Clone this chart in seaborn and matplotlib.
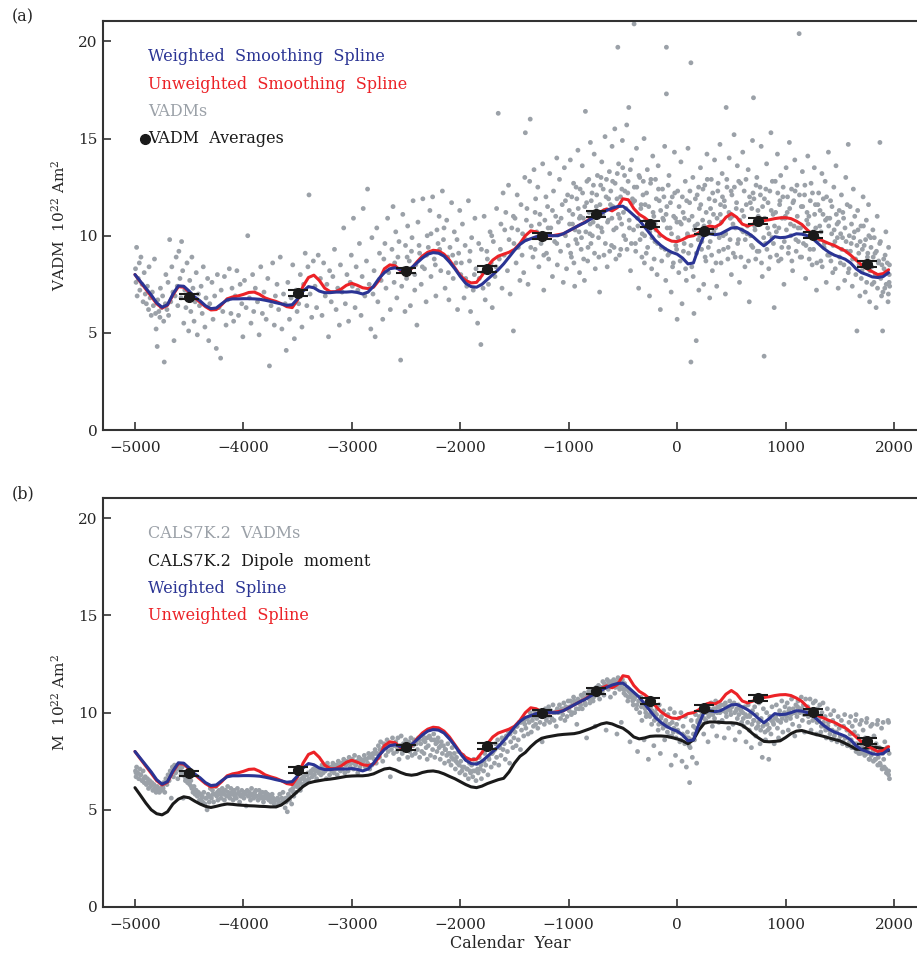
import matplotlib
matplotlib.use("Agg")
import matplotlib.pyplot as plt
import seaborn as sns

# Colours
BLUE = "#2a3494"
RED = "#ec2227"
GREY = "#9ba1a8"
BLACK = "#1a1a1a"

# Smoothing splines and dipole moment, every 50 years from -5000 to 1950
years = list(range(-5000, 2000, 50))

weighted = [
    8.00, 7.65, 7.30, 6.95, 6.55, 6.32, 6.45, 7.00, 7.42, 7.40,
    7.15, 6.85, 6.65, 6.40, 6.25, 6.28, 6.50, 6.70, 6.75, 6.75,
    6.76, 6.76, 6.75, 6.73, 6.68, 6.62, 6.55, 6.49, 6.42, 6.45,
    6.75, 7.15, 7.38, 7.32, 7.15, 7.07, 7.07, 7.10, 7.10, 7.10,
    7.12, 7.08, 7.00, 7.10, 7.40, 7.80, 8.10, 8.30, 8.35, 8.25,
    8.22, 8.35, 8.60, 8.85, 9.05, 9.13, 9.10, 8.95, 8.65, 8.30,
    7.90, 7.55, 7.38, 7.35, 7.50, 7.75, 8.00, 8.25, 8.55, 8.90,
    9.25, 9.55, 9.75, 9.85, 9.95, 10.00, 10.02, 10.00, 10.00, 10.10,
    10.25, 10.40, 10.55, 10.68, 10.85, 11.00, 11.15, 11.30, 11.42, 11.50,
    11.52, 11.30, 11.05, 10.80, 10.45, 10.10, 9.75, 9.50, 9.30, 9.15,
    9.05, 8.85, 8.55, 8.60, 9.40, 10.05, 10.10, 10.05, 10.10, 10.25,
    10.40, 10.42, 10.30, 10.15, 9.95, 9.70, 9.48, 9.70, 9.95, 9.90,
    9.92, 10.00, 10.10, 10.08, 10.00, 9.85, 9.60, 9.35, 9.15, 9.00,
    8.90, 8.79, 8.60, 8.30, 8.10, 8.00, 7.88, 7.85, 7.90, 8.10,
]

unweighted = [
    8.00, 7.62, 7.25, 6.88, 6.50, 6.28, 6.42, 6.95, 7.38, 7.35,
    7.10, 6.82, 6.58, 6.35, 6.18, 6.20, 6.45, 6.75, 6.85, 6.90,
    6.98, 7.08, 7.10, 6.98, 6.80, 6.70, 6.62, 6.50, 6.35, 6.30,
    6.70, 7.40, 7.85, 7.97, 7.70, 7.30, 7.12, 7.12, 7.25, 7.45,
    7.55, 7.45, 7.32, 7.28, 7.35, 7.70, 8.30, 8.50, 8.45, 8.20,
    8.08, 8.30, 8.65, 8.95, 9.15, 9.25, 9.22, 9.05, 8.75, 8.35,
    7.95, 7.70, 7.57, 7.60, 7.95, 8.40, 8.75, 8.95, 9.05, 9.15,
    9.30, 9.60, 10.00, 10.25, 10.20, 10.05, 10.00, 10.00, 10.05, 10.10,
    10.25, 10.40, 10.55, 10.70, 10.88, 11.05, 11.25, 11.38, 11.28, 11.45,
    11.90, 11.85, 11.40, 11.10, 10.93, 10.70, 10.35, 10.05, 9.85, 9.72,
    9.70, 9.80, 9.95, 10.00, 10.15, 10.40, 10.50, 10.45, 10.60, 10.95,
    11.14, 10.95, 10.60, 10.50, 10.60, 10.75, 10.78, 10.82, 10.88, 10.92,
    10.93, 10.88, 10.75, 10.58, 10.30, 10.05, 9.85, 9.72, 9.60, 9.50,
    9.35, 9.22, 9.00, 8.75, 8.50, 8.30, 8.15, 8.00, 8.05, 8.25,
]

dipole = [
    6.14, 5.75, 5.35, 5.00, 4.80, 4.74, 4.90, 5.30, 5.55, 5.67,
    5.62, 5.45, 5.30, 5.18, 5.12, 5.18, 5.25, 5.30, 5.28, 5.25,
    5.23, 5.21, 5.20, 5.18, 5.17, 5.15, 5.15, 5.25, 5.45, 5.70,
    5.95, 6.20, 6.38, 6.45, 6.50, 6.55, 6.58, 6.62, 6.67, 6.72,
    6.74, 6.75, 6.75, 6.78, 6.85, 6.98, 7.10, 7.14, 7.05, 6.92,
    6.82, 6.78, 6.82, 6.92, 6.98, 7.00, 6.95, 6.85, 6.72, 6.60,
    6.45, 6.30, 6.18, 6.14, 6.22, 6.35, 6.45, 6.55, 6.62, 6.95,
    7.40, 7.75, 7.95, 8.25, 8.50, 8.68, 8.75, 8.80, 8.85, 8.88,
    8.90, 8.92, 8.98, 9.08, 9.18, 9.30, 9.42, 9.48, 9.42, 9.30,
    9.20, 9.00, 8.75, 8.65, 8.70, 8.78, 8.80, 8.80, 8.78, 8.72,
    8.65, 8.55, 8.40, 8.60, 9.10, 9.45, 9.52, 9.52, 9.50, 9.48,
    9.48, 9.45, 9.35, 9.15, 8.90, 8.70, 8.52, 8.50, 8.52, 8.55,
    8.72, 8.92, 9.05, 9.08, 9.00, 8.92, 8.85, 8.78, 8.70, 8.62,
    8.55, 8.42, 8.28, 8.12, 8.10, 8.18, 8.23, 8.20, 8.15, 8.05,
]

# 500-year VADM averages (centre year, value)
avg_years = [-4500, -3500, -2500, -1750, -1250, -750, -250, 250, 750, 1250, 1750]
avg_values = [6.87, 7.05, 8.21, 8.28, 10.00, 11.12, 10.62, 10.22, 10.74, 10.05, 8.56]
avg_err = [0.15] * len(avg_years)

# Individual VADMs, panel (a)
vadm_pts = [
    (-4995, 8.3), (-4990, 7.6), (-4985, 9.4), (-4980, 6.9), (-4970, 7.8), (-4960, 8.6), (-4955, 7.2), (-4945, 8.9),
    (-4935, 7.5), (-4925, 6.6), (-4915, 8.1), (-4905, 7.0), (-4895, 6.5), (-4885, 7.4), (-4875, 6.2), (-4870, 8.4),
    (-4860, 6.8), (-4850, 5.9), (-4840, 7.1), (-4830, 6.4), (-4820, 8.8), (-4810, 6.0), (-4805, 5.2), (-4795, 4.3),
    (-4790, 6.7), (-4780, 6.1), (-4770, 5.8), (-4765, 7.3), (-4755, 6.3), (-4745, 6.9), (-4735, 5.6), (-4730, 3.5),
    (-4720, 6.5), (-4715, 8.0), (-4705, 6.2), (-4695, 7.6), (-4690, 5.9), (-4680, 9.8), (-4670, 6.6), (-4660, 8.4),
    (-4650, 7.1), (-4640, 4.6), (-4630, 6.9), (-4620, 8.9), (-4610, 7.4), (-4605, 6.4), (-4595, 9.2), (-4585, 7.8),
    (-4575, 6.8), (-4570, 9.7), (-4560, 8.2), (-4550, 5.5), (-4540, 7.2), (-4530, 6.3), (-4520, 8.6), (-4510, 7.0),
    (-4505, 5.1), (-4495, 7.7), (-4485, 6.1), (-4475, 8.9), (-4465, 7.3), (-4455, 5.6), (-4445, 6.6), (-4435, 8.1),
    (-4425, 4.9), (-4415, 7.0), (-4405, 6.4), (-4390, 7.4), (-4380, 6.0), (-4370, 8.4), (-4355, 5.3), (-4345, 6.8),
    (-4330, 7.8), (-4320, 4.6), (-4310, 6.5), (-4290, 7.6), (-4280, 5.7), (-4265, 6.9), (-4250, 4.2), (-4240, 8.0),
    (-4225, 6.3), (-4210, 3.7), (-4205, 7.2), (-4190, 6.1), (-4175, 7.9), (-4160, 5.4), (-4145, 6.7), (-4130, 8.3),
    (-4115, 6.0), (-4105, 7.3), (-4090, 5.6), (-4075, 6.9), (-4060, 8.2), (-4045, 5.9), (-4030, 7.5), (-4015, 6.5),
    (-4005, 4.8), (-3990, 7.7), (-3975, 6.3), (-3960, 10.0), (-3945, 6.8), (-3930, 5.5), (-3915, 8.0), (-3905, 6.1),
    (-3890, 7.3), (-3870, 6.6), (-3855, 4.9), (-3840, 8.4), (-3825, 6.0), (-3810, 7.1), (-3790, 5.7), (-3775, 7.8),
    (-3760, 3.3), (-3745, 6.4), (-3730, 8.6), (-3715, 5.4), (-3705, 6.9), (-3690, 7.5), (-3675, 6.2), (-3660, 8.9),
    (-3645, 5.2), (-3630, 7.0), (-3615, 6.5), (-3605, 4.1), (-3590, 7.6), (-3575, 5.7), (-3560, 6.8), (-3545, 8.5),
    (-3530, 4.7), (-3515, 7.2), (-3505, 6.1), (-3490, 6.5), (-3475, 8.0), (-3460, 5.3), (-3445, 7.5), (-3430, 9.1),
    (-3415, 6.4), (-3405, 8.4), (-3395, 12.1), (-3385, 7.0), (-3370, 5.8), (-3355, 8.7), (-3340, 7.4), (-3325, 6.3),
    (-3310, 9.0), (-3290, 7.8), (-3275, 5.9), (-3260, 8.6), (-3245, 6.9), (-3230, 7.5), (-3215, 4.8), (-3205, 8.2),
    (-3190, 6.6), (-3175, 7.9), (-3160, 9.3), (-3145, 6.2), (-3130, 7.3), (-3115, 5.4), (-3105, 8.5), (-3090, 7.1),
    (-3075, 10.4), (-3060, 6.5), (-3045, 8.0), (-3030, 5.6), (-3015, 7.6), (-3005, 9.0), (-2995, 7.4), (-2985, 10.9),
    (-2970, 6.3), (-2960, 8.4), (-2945, 7.2), (-2930, 9.6), (-2915, 5.9), (-2905, 7.9), (-2895, 11.4), (-2880, 6.9),
    (-2865, 8.7), (-2855, 12.4), (-2840, 7.5), (-2825, 5.2), (-2815, 9.9), (-2805, 7.0), (-2795, 8.2), (-2785, 4.8),
    (-2770, 10.4), (-2760, 6.6), (-2745, 9.1), (-2730, 7.7), (-2715, 5.7), (-2705, 8.8), (-2695, 9.6), (-2685, 7.3),
    (-2670, 10.9), (-2660, 8.1), (-2645, 6.2), (-2630, 9.3), (-2620, 11.5), (-2610, 7.6), (-2605, 8.6), (-2595, 10.2),
    (-2585, 6.8), (-2575, 8.9), (-2565, 9.7), (-2550, 3.6), (-2540, 7.4), (-2530, 11.1), (-2520, 8.3), (-2510, 6.1),
    (-2505, 9.5), (-2495, 7.8), (-2485, 10.5), (-2470, 8.7), (-2460, 6.4), (-2445, 9.9), (-2435, 11.8), (-2420, 7.2),
    (-2410, 8.5), (-2400, 5.4), (-2390, 10.7), (-2375, 9.1), (-2360, 7.5), (-2345, 11.9), (-2330, 8.3), (-2315, 6.6),
    (-2305, 10.0), (-2295, 9.4), (-2280, 11.3), (-2270, 7.9), (-2255, 12.0), (-2240, 8.8), (-2225, 6.9), (-2215, 10.3),
    (-2205, 9.6), (-2195, 11.0), (-2180, 8.2), (-2165, 12.3), (-2155, 9.8), (-2140, 7.3), (-2125, 10.8), (-2115, 8.9),
    (-2105, 6.7), (-2095, 9.4), (-2080, 11.7), (-2065, 7.8), (-2055, 10.2), (-2040, 8.6), (-2025, 6.2), (-2015, 9.1),
    (-2005, 11.3), (-1995, 8.0), (-1980, 10.6), (-1965, 6.8), (-1955, 9.5), (-1940, 7.4), (-1925, 11.8), (-1915, 8.7),
    (-1905, 6.1), (-1895, 9.9), (-1880, 7.2), (-1865, 10.9), (-1855, 8.3), (-1840, 5.5), (-1825, 7.8), (-1810, 4.4),
    (-1805, 9.3), (-1795, 8.1), (-1780, 11.0), (-1770, 6.7), (-1755, 9.2), (-1740, 7.5), (-1725, 10.2), (-1715, 8.6),
    (-1705, 6.3), (-1695, 9.7), (-1680, 7.9), (-1665, 11.4), (-1650, 16.3), (-1640, 8.8), (-1625, 10.6), (-1615, 7.3),
    (-1605, 12.2), (-1595, 9.0), (-1580, 11.2), (-1565, 8.2), (-1555, 12.6), (-1540, 7.0), (-1525, 10.4), (-1510, 5.1),
    (-1505, 9.6), (-1495, 10.9), (-1485, 8.6), (-1475, 12.1), (-1465, 9.4), (-1450, 7.7), (-1440, 11.6), (-1425, 10.1),
    (-1415, 8.1), (-1405, 13.0), (-1400, 15.3), (-1395, 9.8), (-1385, 11.4), (-1375, 7.5), (-1360, 12.8), (-1355, 16.0),
    (-1345, 10.5), (-1330, 8.9), (-1320, 13.4), (-1310, 9.3), (-1305, 11.9), (-1295, 10.2), (-1285, 12.5), (-1275, 8.4),
    (-1265, 11.1), (-1255, 9.6), (-1240, 13.7), (-1230, 7.2), (-1220, 10.8), (-1210, 12.0), (-1205, 9.1), (-1195, 11.5),
    (-1185, 8.8), (-1175, 13.2), (-1165, 10.4), (-1150, 7.9), (-1140, 12.3), (-1130, 9.7), (-1120, 11.0), (-1110, 14.0),
    (-1105, 8.5), (-1095, 10.7), (-1085, 12.9), (-1075, 9.2), (-1060, 11.6), (-1050, 7.6), (-1040, 13.5), (-1030, 10.0),
    (-1020, 8.3), (-1010, 12.1), (-1005, 9.5), (-995, 11.3), (-985, 13.9), (-975, 8.9), (-965, 10.6), (-955, 12.7),
    (-945, 7.4), (-935, 9.8), (-925, 11.9), (-915, 14.4), (-905, 10.2), (-900, 8.1), (-895, 12.4), (-885, 9.3),
    (-875, 13.6), (-865, 10.9), (-855, 7.7), (-846, 16.4), (-835, 11.7), (-825, 8.7), (-815, 12.9), (-805, 10.1),
    (-800, 14.8), (-795, 9.6), (-785, 12.2), (-775, 10.7), (-765, 14.2), (-755, 8.3), (-745, 11.5), (-735, 13.1),
    (-725, 9.9), (-715, 7.1), (-705, 12.6), (-700, 10.4), (-695, 13.8), (-685, 11.1), (-675, 9.0), (-665, 15.1),
    (-655, 12.0), (-645, 8.4), (-635, 10.8), (-625, 13.3), (-615, 11.6), (-605, 9.5), (-600, 14.6), (-595, 12.8),
    (-585, 10.3), (-575, 15.5), (-565, 8.8), (-555, 11.9), (-547, 19.7), (-540, 13.7), (-530, 10.9), (-520, 9.3),
    (-510, 12.4), (-505, 14.9), (-495, 11.2), (-485, 13.1), (-475, 9.8), (-465, 15.7), (-455, 12.2), (-446, 16.6),
    (-440, 10.4), (-430, 8.2), (-420, 13.9), (-410, 11.7), (-397, 20.9), (-395, 12.5), (-385, 9.6), (-375, 14.5),
    (-365, 10.9), (-355, 7.3), (-345, 13.0), (-335, 11.4), (-325, 8.9), (-315, 12.1), (-305, 15.0), (-300, 10.0),
    (-295, 11.6), (-285, 9.1), (-275, 13.4), (-265, 10.6), (-255, 6.9), (-245, 12.7), (-235, 8.3), (-225, 14.1),
    (-215, 11.0), (-205, 9.7), (-200, 12.9), (-195, 10.3), (-185, 8.0), (-175, 13.6), (-165, 11.8), (-155, 6.2),
    (-145, 9.4), (-135, 12.4), (-125, 10.8), (-115, 14.6), (-105, 7.7), (-99, 17.3), (-99, 19.7), (-95, 11.5),
    (-85, 9.0), (-75, 13.1), (-65, 10.4), (-55, 7.1), (-45, 12.0), (-35, 8.6), (-25, 14.3), (-15, 10.9),
    (-5, 9.3), (0, 5.7), (5, 12.3), (15, 8.1), (25, 10.7), (35, 13.8), (45, 6.5), (55, 11.2),
    (65, 9.6), (75, 12.8), (85, 7.7), (95, 10.1), (100, 14.5), (105, 9.1), (115, 11.7), (127, 18.9),
    (127, 3.5), (135, 8.4), (145, 13.0), (155, 6.0), (165, 10.5), (176, 4.6), (185, 12.1), (195, 9.8),
    (200, 7.2), (205, 11.4), (215, 13.5), (225, 9.3), (235, 10.8), (245, 7.5), (255, 12.6), (265, 8.7),
    (275, 14.2), (285, 10.2), (295, 11.9), (300, 6.8), (305, 9.7), (315, 12.9), (325, 8.2), (335, 11.1),
    (345, 13.9), (355, 10.4), (365, 7.4), (375, 12.3), (385, 9.2), (395, 14.7), (400, 11.6), (405, 8.6),
    (415, 13.2), (425, 10.0), (435, 11.8), (445, 7.0), (452, 16.6), (460, 12.5), (470, 9.4), (480, 14.0),
    (490, 10.9), (500, 8.0), (505, 12.1), (515, 10.6), (525, 15.2), (535, 8.9), (545, 11.4), (555, 13.6),
    (565, 9.8), (575, 7.6), (585, 12.7), (595, 10.3), (605, 14.3), (615, 11.0), (625, 8.4), (635, 12.9),
    (645, 10.1), (655, 13.4), (665, 6.6), (675, 11.7), (685, 9.5), (695, 14.9), (700, 12.2), (704, 17.1),
    (715, 10.5), (725, 8.8), (735, 13.0), (745, 11.3), (755, 9.2), (765, 12.5), (775, 14.6), (785, 7.9),
    (795, 10.8), (802, 3.8), (805, 11.9), (815, 9.6), (825, 13.7), (835, 10.4), (845, 8.3), (855, 12.3),
    (865, 15.3), (875, 9.9), (885, 11.1), (895, 6.3), (905, 12.8), (915, 10.2), (925, 14.2), (935, 8.7),
    (945, 11.6), (955, 13.1), (965, 9.4), (975, 12.0), (985, 7.5), (995, 10.9), (1005, 13.5), (1015, 11.2),
    (1025, 9.1), (1035, 14.8), (1045, 10.6), (1055, 12.4), (1065, 8.2), (1075, 11.8), (1085, 13.9), (1095, 9.8),
    (1105, 12.6), (1115, 10.4), (1125, 20.4), (1135, 8.9), (1145, 11.5), (1155, 13.3), (1165, 9.6), (1175, 12.1),
    (1185, 7.8), (1195, 10.8), (1205, 14.1), (1215, 11.0), (1225, 9.3), (1235, 12.7), (1245, 8.5), (1255, 10.2),
    (1265, 13.5), (1275, 11.6), (1285, 7.2), (1295, 9.9), (1305, 12.2), (1315, 10.5), (1325, 8.7), (1335, 13.2),
    (1345, 11.1), (1355, 9.4), (1365, 12.8), (1375, 7.6), (1385, 10.9), (1395, 14.3), (1405, 9.0), (1415, 11.8),
    (1425, 10.1), (1435, 8.1), (1445, 12.5), (1455, 9.7), (1465, 13.6), (1475, 10.6), (1485, 7.3), (1495, 11.3),
    (1505, 8.6), (1515, 12.1), (1525, 9.9), (1535, 10.9), (1545, 7.7), (1555, 13.0), (1565, 9.2), (1578, 14.7),
    (1585, 8.3), (1595, 11.5), (1605, 9.6), (1615, 7.4), (1625, 12.4), (1635, 10.2), (1645, 8.8), (1658, 5.1),
    (1665, 11.3), (1675, 9.1), (1685, 6.9), (1695, 10.5), (1705, 8.2), (1715, 12.0), (1725, 9.5), (1735, 7.1),
    (1745, 10.8), (1755, 8.9), (1765, 11.6), (1775, 6.6), (1785, 9.9), (1795, 8.4), (1805, 10.3), (1815, 7.6),
    (1825, 9.1), (1835, 6.3), (1845, 11.0), (1855, 8.6), (1865, 7.9), (1870, 14.8), (1875, 9.7), (1885, 6.9),
    (1895, 5.1), (1905, 8.8), (1915, 7.3), (1925, 10.2), (1935, 8.1), (1945, 6.6), (1950, 9.4), (1955, 7.6),
    (1958, 8.5),
]

# More VADMs from the dense band after -2500
vadm_core = [
    (-2490, 8.9), (-2450, 9.2), (-2420, 8.0), (-2380, 9.5), (-2350, 8.4), (-2310, 9.0), (-2270, 10.1), (-2230, 8.5),
    (-2190, 9.3), (-2150, 10.4), (-2110, 8.1), (-2070, 9.0), (-2030, 9.8), (-1990, 8.6), (-1950, 7.8), (-1910, 9.2),
    (-1870, 8.0), (-1830, 9.6), (-1790, 7.3), (-1750, 8.8), (-1710, 10.0), (-1670, 8.4), (-1630, 9.3), (-1590, 10.3),
    (-1550, 9.8), (-1510, 11.0), (-1470, 10.3), (-1430, 9.0), (-1390, 10.8), (-1350, 9.4), (-1310, 11.2), (-1270, 10.6),
    (-1230, 9.0), (-1190, 10.4), (-1150, 11.3), (-1110, 9.6), (-1070, 10.9), (-1030, 11.8),
    (-992, 10.6), (-982, 9.1), (-972, 12.0), (-962, 11.1), (-952, 8.6), (-942, 10.3), (-932, 12.5), (-922, 9.6),
    (-912, 11.4), (-902, 10.9), (-892, 11.0), (-882, 9.9), (-872, 12.2), (-862, 8.8), (-852, 11.5), (-842, 10.2),
    (-832, 12.8), (-822, 9.4), (-812, 11.2), (-802, 10.6), (-792, 11.8), (-782, 10.0), (-772, 12.6), (-762, 9.1),
    (-752, 11.0), (-742, 12.1), (-732, 10.5), (-722, 8.9), (-712, 11.6), (-702, 13.0), (-692, 10.2), (-682, 12.4),
    (-672, 11.3), (-662, 9.6), (-652, 12.9), (-642, 10.7), (-632, 11.9), (-622, 9.2), (-612, 12.3), (-602, 10.9),
    (-592, 11.5), (-582, 9.4), (-572, 12.7), (-562, 10.4), (-552, 13.2), (-542, 11.1), (-532, 9.0), (-522, 12.0),
    (-512, 10.6), (-502, 13.5), (-492, 10.0), (-482, 12.3), (-472, 11.4), (-462, 9.3), (-452, 12.8), (-442, 10.8),
    (-432, 13.4), (-422, 9.6), (-412, 11.9), (-402, 10.3), (-392, 11.8), (-382, 9.2), (-372, 12.5), (-362, 10.5),
    (-352, 13.1), (-342, 9.8), (-332, 11.6), (-322, 10.1), (-312, 12.8), (-302, 8.6), (-292, 10.8), (-282, 12.2),
    (-272, 9.4), (-262, 11.5), (-252, 10.2), (-242, 12.9), (-232, 9.9), (-222, 11.2), (-212, 8.8), (-202, 10.6),
    (-192, 11.9), (-182, 9.6), (-172, 12.4), (-162, 10.0), (-152, 11.3), (-142, 8.7), (-132, 10.9), (-122, 12.0),
    (-112, 9.3), (-102, 11.1), (-92, 10.4), (-82, 12.6), (-72, 9.1), (-62, 11.7), (-52, 10.1), (-42, 8.4),
    (-32, 11.0), (-22, 12.2), (-12, 9.5), (-2, 10.7), (8, 9.9), (18, 11.5), (28, 8.7), (38, 10.6),
    (48, 12.0), (58, 9.2), (68, 10.9), (78, 8.3), (88, 11.8), (98, 10.0), (108, 10.8), (118, 12.3),
    (128, 9.5), (138, 11.0), (148, 7.9), (158, 10.3), (168, 11.9), (178, 9.1), (188, 10.6), (198, 12.5),
    (208, 10.0), (218, 11.6), (228, 9.7), (238, 12.4), (248, 10.5), (258, 8.9), (268, 11.2), (278, 12.9),
    (288, 9.4), (298, 10.7), (308, 11.4), (318, 9.0), (328, 12.2), (338, 10.2), (348, 11.8), (358, 8.6),
    (368, 10.9), (378, 12.7), (388, 9.9), (398, 11.1), (408, 10.7), (418, 12.0), (428, 9.3), (438, 11.5),
    (448, 10.1), (458, 12.9), (468, 8.8), (478, 11.2), (488, 9.8), (498, 12.3), (508, 11.0), (518, 9.1),
    (528, 12.5), (538, 10.4), (548, 11.7), (558, 9.6), (568, 12.8), (578, 10.8), (588, 8.9), (598, 11.3),
    (608, 10.2), (618, 12.3), (628, 9.8), (638, 11.6), (648, 10.5), (658, 8.7), (668, 12.0), (678, 10.0),
    (688, 11.4), (698, 9.4), (708, 11.9), (718, 10.3), (728, 12.6), (738, 9.2), (748, 11.0), (758, 10.6),
    (768, 12.1), (778, 8.6), (788, 11.5), (798, 9.9), (808, 10.9), (818, 12.4), (828, 9.3), (838, 11.7),
    (848, 10.1), (858, 8.9), (868, 11.3), (878, 12.8), (888, 9.6), (898, 10.5), (908, 11.2), (918, 9.0),
    (928, 12.2), (938, 10.4), (948, 11.8), (958, 8.8), (968, 10.9), (978, 12.5), (988, 9.7), (998, 11.0),
    (1008, 10.3), (1018, 12.0), (1028, 9.4), (1038, 11.4), (1048, 10.0), (1058, 8.7), (1068, 11.7), (1078, 10.5),
    (1088, 12.3), (1098, 9.2), (1108, 11.0), (1118, 9.7), (1128, 12.1), (1138, 10.4), (1148, 8.9), (1158, 11.5),
    (1168, 10.1), (1178, 12.6), (1188, 9.5), (1198, 11.2), (1208, 10.6), (1218, 8.8), (1228, 11.8), (1238, 10.0),
    (1248, 12.2), (1258, 9.3), (1268, 11.1), (1278, 10.4), (1288, 8.6), (1298, 11.6), (1308, 9.8), (1318, 11.3),
    (1328, 10.2), (1338, 8.4), (1348, 11.9), (1358, 9.6), (1368, 10.8), (1378, 12.0), (1388, 9.0), (1398, 10.5),
    (1408, 10.9), (1418, 8.7), (1428, 11.5), (1438, 9.5), (1448, 10.3), (1458, 8.3), (1468, 11.1), (1478, 9.9),
    (1488, 10.7), (1498, 8.9), (1508, 10.1), (1518, 9.3), (1528, 11.2), (1538, 8.5), (1548, 10.4), (1558, 9.7),
    (1568, 11.6), (1578, 8.1), (1588, 10.0), (1598, 9.2), (1608, 10.6), (1618, 8.8), (1628, 9.9), (1638, 11.0),
    (1648, 8.0), (1658, 9.5), (1668, 10.3), (1678, 8.5), (1688, 9.7), (1698, 7.8), (1708, 9.3), (1718, 10.5),
    (1728, 8.4), (1738, 9.8), (1748, 7.6), (1758, 9.1), (1768, 10.0), (1778, 8.2), (1788, 9.4), (1798, 7.5),
    (1808, 8.9), (1818, 9.9), (1828, 8.0), (1838, 9.2), (1848, 7.3), (1858, 8.7), (1868, 9.6), (1878, 7.8),
    (1888, 8.5), (1898, 7.1), (1908, 8.3), (1918, 9.0), (1928, 7.5), (1938, 8.6), (1948, 7.0), (1956, 8.0),
    (1960, 7.4),
]

# CALS7K.2 model VADMs at the data sites, panel (b)
cals_pts = [
    (-4995, 7.0), (-4990, 6.7), (-4985, 7.2), (-4975, 6.9), (-4965, 6.6), (-4955, 7.1), (-4945, 6.8), (-4935, 6.5),
    (-4925, 7.0), (-4915, 6.4), (-4905, 6.7), (-4895, 6.3), (-4885, 6.6), (-4875, 6.1), (-4865, 6.5), (-4855, 6.2),
    (-4845, 6.4), (-4835, 6.0), (-4825, 6.3), (-4815, 6.1), (-4805, 5.9), (-4795, 6.2), (-4785, 6.0), (-4775, 5.9),
    (-4765, 6.1), (-4755, 6.0), (-4745, 6.2), (-4735, 6.4), (-4725, 5.9), (-4715, 6.6), (-4705, 6.3), (-4695, 6.8),
    (-4685, 6.5), (-4675, 7.0), (-4665, 5.6), (-4655, 7.2), (-4645, 6.7), (-4635, 7.3), (-4625, 6.9), (-4615, 7.2),
    (-4605, 6.6), (-4595, 7.3), (-4585, 7.1), (-4575, 6.8), (-4565, 7.2), (-4555, 5.6), (-4545, 6.9), (-4535, 6.5),
    (-4525, 6.8), (-4515, 6.4), (-4505, 6.6), (-4495, 6.3), (-4485, 6.5), (-4475, 6.1), (-4465, 5.9), (-4455, 6.2),
    (-4445, 5.8), (-4435, 6.0), (-4425, 5.7), (-4415, 5.9), (-4405, 5.5), (-4395, 5.8), (-4385, 5.6), (-4375, 5.4),
    (-4365, 5.9), (-4355, 5.3), (-4345, 5.6), (-4335, 5.0), (-4325, 5.8), (-4315, 5.4), (-4305, 6.1), (-4295, 5.6),
    (-4285, 6.0), (-4275, 5.4), (-4265, 5.8), (-4255, 6.2), (-4245, 5.7), (-4235, 5.5), (-4225, 6.0), (-4215, 5.8),
    (-4205, 5.6), (-4195, 6.1), (-4185, 5.9), (-4175, 5.5), (-4165, 6.0), (-4155, 5.7), (-4145, 6.2), (-4135, 5.8),
    (-4125, 5.6), (-4115, 6.1), (-4105, 5.9), (-4095, 5.5), (-4085, 6.0), (-4075, 5.8), (-4065, 5.6), (-4055, 6.1),
    (-4045, 5.9), (-4035, 5.4), (-4025, 5.7), (-4015, 6.0), (-4005, 5.8), (-3995, 5.6), (-3985, 5.9), (-3975, 5.2),
    (-3965, 6.0), (-3955, 5.7), (-3945, 5.9), (-3935, 5.5), (-3925, 6.1), (-3915, 5.8), (-3905, 5.6), (-3895, 5.9),
    (-3885, 6.0), (-3875, 5.7), (-3865, 5.5), (-3855, 6.0), (-3845, 5.8), (-3835, 5.6), (-3825, 5.9), (-3815, 5.4),
    (-3805, 5.7), (-3795, 5.9), (-3785, 5.6), (-3775, 5.8), (-3765, 5.5), (-3755, 5.7), (-3745, 5.4), (-3735, 5.8),
    (-3725, 5.6), (-3715, 5.3), (-3705, 5.5), (-3695, 5.2), (-3685, 5.6), (-3675, 5.4), (-3665, 5.8), (-3655, 5.3),
    (-3645, 5.6), (-3635, 5.9), (-3625, 5.5), (-3615, 5.1), (-3605, 5.4), (-3595, 4.9), (-3585, 5.8), (-3575, 5.5),
    (-3565, 6.0), (-3555, 5.3), (-3545, 6.1), (-3535, 5.7), (-3525, 6.3), (-3515, 5.9), (-3505, 6.4), (-3495, 6.2),
    (-3485, 6.5), (-3475, 6.0), (-3465, 6.6), (-3455, 6.3), (-3445, 6.7), (-3435, 6.4), (-3425, 6.8), (-3415, 6.5),
    (-3405, 6.9), (-3395, 6.6), (-3385, 6.9), (-3375, 7.0), (-3365, 6.7), (-3355, 7.1), (-3345, 6.8), (-3335, 7.2),
    (-3325, 6.6), (-3315, 7.0), (-3305, 6.9), (-3295, 7.1), (-3285, 6.8), (-3275, 7.3), (-3265, 6.9), (-3255, 7.2),
    (-3245, 7.0), (-3235, 6.6), (-3225, 7.4), (-3215, 7.1), (-3205, 6.8), (-3195, 7.2), (-3185, 7.0), (-3175, 7.4),
    (-3165, 6.9), (-3155, 7.3), (-3145, 7.1), (-3135, 6.8), (-3125, 7.5), (-3115, 7.2), (-3105, 7.0), (-3095, 7.4),
    (-3085, 7.1), (-3075, 7.6), (-3065, 6.9), (-3055, 7.3), (-3045, 7.5), (-3035, 7.0), (-3025, 7.7), (-3015, 7.2),
    (-3005, 7.4), (-2995, 7.6), (-2985, 7.1), (-2975, 7.8), (-2965, 7.3), (-2955, 7.5), (-2945, 6.9), (-2935, 7.7),
    (-2925, 7.2), (-2915, 7.6), (-2905, 7.4), (-2895, 7.5), (-2885, 7.8), (-2875, 7.2), (-2865, 7.6), (-2855, 7.4),
    (-2845, 7.9), (-2835, 7.1), (-2825, 7.7), (-2815, 7.3), (-2805, 7.9), (-2795, 7.6), (-2785, 8.1), (-2775, 7.4),
    (-2765, 7.9), (-2755, 8.3), (-2745, 7.7), (-2735, 8.5), (-2725, 8.0), (-2715, 7.5), (-2705, 8.4), (-2695, 8.2),
    (-2685, 7.8), (-2675, 8.6), (-2665, 8.0), (-2655, 8.4), (-2645, 6.7), (-2635, 8.1), (-2625, 8.7), (-2615, 7.9),
    (-2605, 8.3), (-2595, 8.5), (-2585, 8.0), (-2575, 8.7), (-2565, 7.6), (-2555, 8.3), (-2545, 8.8), (-2535, 7.9),
    (-2525, 8.4), (-2515, 8.1), (-2505, 8.6), (-2495, 8.2), (-2485, 7.7), (-2475, 8.5), (-2465, 8.0), (-2455, 8.7),
    (-2445, 7.8), (-2435, 8.3), (-2425, 8.6), (-2415, 7.9), (-2405, 8.4), (-2395, 8.1), (-2385, 8.7), (-2375, 7.7),
    (-2365, 8.4), (-2355, 8.0), (-2345, 8.8), (-2335, 7.9), (-2325, 8.5), (-2315, 8.2), (-2305, 7.6), (-2295, 8.3),
    (-2285, 8.8), (-2275, 7.8), (-2265, 8.6), (-2255, 8.1), (-2245, 8.9), (-2235, 7.7), (-2225, 8.4), (-2215, 8.0),
    (-2205, 8.7), (-2195, 8.2), (-2185, 7.6), (-2175, 8.5), (-2165, 7.9), (-2155, 8.3), (-2145, 7.4), (-2135, 8.1),
    (-2125, 7.8), (-2115, 8.4), (-2105, 7.5), (-2095, 7.9), (-2085, 7.3), (-2075, 8.2), (-2065, 7.6), (-2055, 7.9),
    (-2045, 7.1), (-2035, 7.7), (-2025, 7.4), (-2015, 8.0), (-2005, 6.9), (-1995, 7.5), (-1985, 7.0), (-1975, 7.8),
    (-1965, 7.2), (-1955, 6.8), (-1945, 7.6), (-1935, 7.1), (-1925, 6.6), (-1915, 7.4), (-1905, 6.9), (-1895, 7.3),
    (-1885, 6.7), (-1875, 7.6), (-1865, 7.0), (-1855, 6.5), (-1845, 7.4), (-1835, 6.9), (-1825, 7.7), (-1815, 7.1),
    (-1805, 6.6), (-1795, 7.5), (-1785, 7.0), (-1775, 7.9), (-1765, 7.3), (-1755, 8.1), (-1745, 6.8), (-1735, 7.6),
    (-1725, 8.3), (-1715, 7.2), (-1705, 7.9), (-1695, 8.0), (-1685, 7.4), (-1675, 8.4), (-1665, 7.7), (-1655, 8.6),
    (-1645, 7.3), (-1635, 8.2), (-1625, 7.8), (-1615, 8.7), (-1605, 8.1), (-1595, 8.4), (-1585, 7.6), (-1575, 8.8),
    (-1565, 8.0), (-1555, 9.0), (-1545, 7.4), (-1535, 8.5), (-1525, 9.1), (-1515, 8.2), (-1505, 8.7), (-1495, 9.0),
    (-1485, 8.3), (-1475, 9.3), (-1465, 8.6), (-1455, 9.5), (-1445, 8.1), (-1435, 9.1), (-1425, 9.6), (-1415, 8.8),
    (-1405, 9.4), (-1395, 9.2), (-1385, 9.7), (-1375, 8.9), (-1365, 9.5), (-1355, 10.0), (-1345, 9.0), (-1335, 9.6),
    (-1325, 9.3), (-1315, 10.1), (-1305, 9.4), (-1295, 9.7), (-1285, 9.2), (-1275, 10.0), (-1265, 9.5), (-1255, 9.8),
    (-1245, 8.5), (-1235, 9.9), (-1225, 9.4), (-1215, 10.2), (-1205, 9.6), (-1195, 9.8), (-1185, 10.3), (-1175, 9.5),
    (-1165, 10.1), (-1155, 9.7), (-1145, 10.4), (-1135, 9.6), (-1125, 10.0), (-1115, 9.3), (-1105, 10.2), (-1095, 10.0),
    (-1085, 10.4), (-1075, 9.7), (-1065, 10.2), (-1055, 9.9), (-1045, 10.5), (-1035, 9.6), (-1025, 10.3), (-1015, 9.8),
    (-1005, 10.6), (-995, 10.1), (-985, 10.6), (-975, 9.9), (-965, 10.4), (-955, 10.8), (-945, 10.0), (-935, 10.5),
    (-925, 9.4), (-915, 10.7), (-905, 10.2), (-895, 10.6), (-885, 10.9), (-875, 10.2), (-865, 10.7), (-855, 11.0),
    (-845, 10.4), (-835, 8.7), (-825, 10.9), (-815, 11.1), (-805, 10.5), (-795, 10.8), (-785, 11.2), (-775, 10.6),
    (-765, 11.0), (-755, 9.3), (-745, 11.3), (-735, 10.9), (-725, 11.4), (-715, 10.7), (-705, 11.1), (-695, 11.3),
    (-685, 11.6), (-675, 10.9), (-665, 11.4), (-655, 9.1), (-645, 11.7), (-635, 11.2), (-625, 11.5), (-615, 10.8),
    (-605, 11.6), (-595, 11.4), (-585, 11.7), (-575, 11.0), (-565, 11.6), (-555, 8.9), (-545, 11.8), (-535, 11.3),
    (-525, 11.5), (-515, 9.5), (-505, 11.7), (-495, 11.2), (-485, 11.5), (-475, 10.9), (-465, 11.3), (-455, 10.6),
    (-445, 11.1), (-435, 8.5), (-425, 10.8), (-415, 11.0), (-405, 10.4), (-395, 10.7), (-385, 10.9), (-375, 10.2),
    (-365, 8.0), (-355, 10.6), (-345, 10.0), (-335, 10.8), (-325, 9.6), (-315, 10.4), (-305, 8.6), (-295, 10.2),
    (-285, 9.8), (-275, 10.6), (-265, 7.6), (-255, 9.9), (-245, 10.3), (-235, 9.4), (-225, 10.5), (-215, 8.3),
    (-205, 10.0), (-195, 9.7), (-185, 10.2), (-175, 9.1), (-165, 10.4), (-155, 7.9), (-145, 9.8), (-135, 9.4),
    (-125, 10.1), (-115, 8.6), (-105, 9.6), (-95, 9.3), (-85, 9.9), (-75, 8.8), (-65, 10.2), (-55, 7.3),
    (-45, 9.5), (-35, 9.0), (-25, 10.0), (-15, 7.8), (-5, 9.4), (5, 9.1), (15, 9.7), (25, 8.5),
    (35, 10.0), (45, 7.5), (55, 9.3), (65, 8.8), (75, 9.8), (85, 7.2), (95, 9.0), (105, 8.7),
    (115, 6.4), (120, 8.2), (130, 9.6), (140, 7.7), (150, 9.3), (160, 8.6), (170, 9.9), (180, 7.4),
    (190, 9.5), (205, 9.8), (215, 10.1), (225, 9.4), (235, 10.3), (245, 8.9), (255, 10.0), (265, 9.6),
    (275, 10.4), (285, 8.5), (295, 10.2), (305, 9.9), (315, 10.5), (325, 9.3), (335, 10.2), (345, 9.7),
    (355, 10.6), (365, 8.8), (375, 10.3), (385, 9.5), (395, 10.0), (405, 10.4), (415, 9.6), (425, 10.1),
    (435, 8.7), (445, 10.5), (455, 9.8), (465, 10.2), (475, 9.2), (485, 10.6), (495, 9.9), (505, 10.3),
    (515, 9.4), (525, 10.5), (535, 8.6), (545, 10.1), (555, 9.7), (565, 10.4), (575, 9.0), (585, 10.2),
    (595, 9.5), (605, 10.0), (615, 9.3), (625, 10.3), (635, 8.5), (645, 9.8), (655, 10.4), (665, 9.1),
    (675, 9.9), (685, 8.2), (695, 10.1), (705, 9.6), (715, 10.3), (725, 8.8), (735, 9.9), (745, 9.3),
    (755, 10.5), (765, 8.4), (775, 9.7), (785, 7.7), (795, 10.2), (805, 9.4), (815, 8.6), (825, 10.0),
    (835, 9.1), (845, 7.6), (855, 9.8), (865, 8.9), (875, 10.3), (885, 9.5), (895, 8.4), (905, 9.7),
    (915, 10.4), (925, 9.2), (935, 8.7), (945, 10.1), (955, 9.5), (965, 10.6), (975, 9.0), (985, 9.9),
    (995, 10.3), (1005, 9.6), (1015, 10.5), (1025, 9.1), (1035, 10.2), (1045, 9.7), (1055, 10.7), (1065, 9.4),
    (1075, 10.0), (1085, 8.8), (1095, 10.4), (1105, 9.8), (1115, 10.6), (1125, 9.3), (1135, 10.2), (1145, 10.8),
    (1155, 9.6), (1165, 10.4), (1175, 9.0), (1185, 10.7), (1195, 9.9), (1205, 10.3), (1215, 9.5), (1225, 10.7),
    (1235, 9.1), (1245, 10.0), (1255, 10.5), (1265, 9.7), (1275, 10.6), (1285, 8.9), (1295, 10.2), (1305, 9.6),
    (1315, 10.4), (1325, 9.0), (1335, 10.0), (1345, 10.5), (1355, 9.3), (1365, 9.8), (1375, 8.7), (1385, 10.2),
    (1395, 9.5), (1405, 9.1), (1415, 9.9), (1425, 8.6), (1435, 9.6), (1445, 10.1), (1455, 9.0), (1465, 9.4),
    (1475, 8.5), (1485, 9.8), (1495, 9.2), (1505, 8.8), (1515, 9.6), (1525, 8.4), (1535, 9.3), (1545, 9.9),
    (1555, 8.7), (1565, 9.1), (1575, 8.3), (1585, 9.5), (1595, 8.9), (1605, 8.6), (1615, 9.3), (1625, 8.2),
    (1635, 9.0), (1645, 9.6), (1655, 8.4), (1665, 8.8), (1675, 7.9), (1685, 9.4), (1695, 8.5), (1705, 8.3),
    (1715, 9.1), (1725, 7.9), (1735, 8.7), (1745, 9.5), (1755, 8.1), (1765, 8.5), (1775, 7.6), (1785, 9.3),
    (1795, 8.2), (1805, 8.0), (1815, 8.8), (1825, 7.6), (1835, 8.4), (1845, 9.4), (1855, 7.7), (1865, 8.2),
    (1875, 7.3), (1885, 9.2), (1895, 7.9), (1905, 7.6), (1915, 8.5), (1925, 7.1), (1935, 8.2), (1945, 9.6),
    (1950, 6.8), (1955, 7.9), (1958, 6.6),
]

# More CALS7K.2 VADMs along the core of the band
cals_core = [
    (-4990, 6.9), (-4950, 6.8), (-4920, 6.6), (-4880, 6.4), (-4850, 6.3), (-4810, 6.1), (-4780, 6.0), (-4740, 6.1),
    (-4710, 6.4), (-4680, 6.8), (-4640, 7.0), (-4610, 7.1), (-4580, 7.0), (-4540, 6.7), (-4510, 6.5), (-4480, 6.2),
    (-4440, 6.0), (-4410, 5.8), (-4380, 5.7), (-4340, 5.6), (-4310, 5.7), (-4280, 5.8), (-4240, 5.9), (-4210, 5.9),
    (-4180, 5.8), (-4140, 5.9), (-4110, 5.8), (-4080, 5.7), (-4040, 5.8), (-4010, 5.7), (-3980, 5.8), (-3940, 5.7),
    (-3910, 5.8), (-3880, 5.7), (-3840, 5.7), (-3810, 5.6), (-3780, 5.7), (-3740, 5.6), (-3710, 5.5), (-3680, 5.5),
    (-3640, 5.4), (-3610, 5.6), (-3580, 5.7), (-3540, 5.9), (-3510, 6.2), (-3480, 6.4), (-3440, 6.6), (-3410, 6.8),
    (-3380, 6.9), (-3340, 7.0), (-3310, 7.0), (-3280, 7.1), (-3240, 7.1), (-3210, 7.2), (-3180, 7.2), (-3140, 7.3),
    (-3110, 7.3), (-3080, 7.4), (-3040, 7.4), (-3010, 7.5), (-2980, 7.4), (-2940, 7.5), (-2910, 7.5), (-2880, 7.6),
    (-2840, 7.7), (-2810, 7.8), (-2780, 7.9), (-2740, 8.1), (-2710, 8.2), (-2680, 8.3), (-2640, 8.4), (-2610, 8.3),
    (-2580, 8.2), (-2540, 8.1), (-2510, 8.2), (-2480, 8.3), (-2440, 8.4), (-2410, 8.5), (-2380, 8.6), (-2340, 8.6),
    (-2310, 8.7), (-2280, 8.7), (-2240, 8.6), (-2210, 8.5), (-2180, 8.3), (-2140, 8.1), (-2110, 7.9), (-2080, 7.7),
    (-2040, 7.5), (-2010, 7.3), (-1980, 7.2), (-1940, 7.1), (-1910, 7.0), (-1880, 7.0), (-1840, 7.1), (-1810, 7.3),
    (-1780, 7.5), (-1740, 7.7), (-1710, 7.9), (-1680, 8.1), (-1640, 8.3), (-1610, 8.5), (-1580, 8.7), (-1540, 8.9),
    (-1510, 9.1), (-1480, 9.3), (-1440, 9.5), (-1410, 9.6), (-1380, 9.7), (-1340, 9.8), (-1310, 9.8), (-1280, 9.9),
    (-1240, 9.9), (-1210, 10.0), (-1180, 10.0), (-1140, 10.0), (-1110, 10.1), (-1080, 10.1), (-1040, 10.2), (-1010, 10.2),
    (-990, 10.3), (-970, 10.0), (-950, 10.6), (-930, 10.2), (-910, 10.5), (-890, 10.4), (-870, 10.8), (-850, 10.5),
    (-830, 10.9), (-810, 10.7), (-790, 11.0), (-770, 10.8), (-750, 11.2), (-730, 11.0), (-710, 11.3), (-690, 11.1),
    (-670, 11.5), (-650, 11.3), (-630, 11.6), (-610, 11.4), (-590, 11.6), (-570, 11.3), (-550, 11.5), (-530, 11.2),
    (-510, 11.4), (-490, 11.0), (-470, 11.2), (-450, 10.8), (-430, 11.0), (-410, 10.6), (-390, 10.8), (-370, 10.4),
    (-350, 10.6), (-330, 10.3), (-310, 10.5), (-290, 10.0), (-270, 10.3), (-250, 9.8), (-230, 10.1), (-210, 9.6),
    (-190, 9.9), (-170, 9.4), (-150, 9.7), (-130, 9.2), (-110, 9.5), (-90, 9.0), (-70, 9.4), (-50, 8.8),
    (-30, 9.2), (-10, 8.7), (10, 9.0), (30, 8.6), (50, 8.9), (70, 8.4), (90, 8.7), (110, 8.3),
    (130, 8.6), (150, 8.9), (170, 9.2), (190, 9.6), (210, 9.5), (230, 9.9), (250, 9.7), (270, 10.0),
    (290, 9.8), (310, 10.1), (330, 9.9), (350, 10.2), (370, 10.0), (390, 10.3), (410, 10.1), (430, 10.4),
    (450, 10.0), (470, 10.3), (490, 10.1), (510, 10.4), (530, 10.0), (550, 10.2), (570, 9.9), (590, 10.1),
    (610, 9.7), (630, 9.9), (650, 9.5), (670, 9.8), (690, 9.4), (710, 9.6), (730, 9.2), (750, 9.5),
    (770, 9.1), (790, 9.3), (810, 9.0), (830, 9.4), (850, 9.2), (870, 9.6), (890, 9.4), (910, 9.8),
    (930, 9.6), (950, 9.9), (970, 9.7), (990, 10.0), (1010, 9.8), (1030, 10.1), (1050, 9.9), (1070, 10.2),
    (1090, 10.0), (1110, 10.3), (1130, 10.0), (1150, 10.2), (1170, 9.9), (1190, 10.1), (1210, 9.8), (1230, 10.0),
    (1250, 9.6), (1270, 9.8), (1290, 9.5), (1310, 9.7), (1330, 9.3), (1350, 9.5), (1370, 9.1), (1390, 9.3),
    (1410, 8.9), (1430, 9.1), (1450, 8.8), (1470, 9.0), (1490, 8.6), (1510, 8.8), (1530, 8.5), (1550, 8.7),
    (1570, 8.3), (1590, 8.5), (1610, 8.2), (1630, 8.4), (1650, 8.0), (1670, 8.2), (1690, 7.9), (1710, 8.1),
    (1730, 7.8), (1750, 7.9), (1770, 7.6), (1790, 7.8), (1810, 7.5), (1830, 7.6), (1850, 7.3), (1870, 7.4),
    (1890, 7.1), (1910, 7.2), (1930, 6.9), (1950, 7.0), (1600, 9.8), (1650, 9.9), (1700, 9.6), (1750, 9.7),
    (1800, 9.4), (1850, 9.6), (1900, 9.5), (1950, 9.5),
]

vadm_years = [p[0] for p in vadm_pts + vadm_core]
vadm_values = [p[1] for p in vadm_pts + vadm_core]
cals_years = [p[0] for p in cals_pts + cals_core]
cals_values = [p[1] for p in cals_pts + cals_core]

legend_a = [("Weighted  Smoothing  Spline", BLUE), ("Unweighted  Smoothing  Spline", RED),
            ("VADMs", GREY), ("VADM  Averages", BLACK)]
legend_b = [("CALS7K.2  VADMs", GREY), ("CALS7K.2  Dipole  moment", BLACK),
            ("Weighted  Spline", BLUE), ("Unweighted  Spline", RED)]
legend_y = [19.2, 17.8, 16.4, 15.0]

sns.set_style("ticks")
plt.rcParams["font.family"] = ["DejaVu Serif"]
plt.rcParams["mathtext.fontset"] = "dejavuserif"

fig = plt.figure(figsize=(9.17, 9.55), dpi=100)
ax_a = fig.add_axes([0.1123, 0.5497, 0.8877, 0.4283])
ax_b = fig.add_axes([0.1123, 0.0503, 0.8877, 0.4283])


def style_axes(ax, ylabel):
    ax.set_xlim(-5295, 2212)
    ax.set_ylim(0, 21.05)
    ax.set_xticks(range(-5000, 2001, 1000))
    ax.set_yticks([0, 5, 10, 15, 20])
    ax.tick_params(direction="in", length=6, width=1.2, color="#333333", labelsize=11)
    ax.tick_params(axis="x", pad=8)
    ax.tick_params(axis="y", pad=4)
    for side in ["left", "bottom", "top"]:
        ax.spines[side].set_linewidth(1.5)
        ax.spines[side].set_color("#333333")
    ax.spines["right"].set_visible(False)
    ax.set_ylabel(ylabel, fontsize=11)
    ax.yaxis.set_label_coords(-0.043, 0.5)
    ax.set_xlabel("")


def draw_averages(ax):
    ax.errorbar(avg_years, avg_values, yerr=avg_err, fmt="o", color=BLACK, ms=7,
                elinewidth=1.5, capsize=7, capthick=1.5, zorder=6)


# Panel (a)
sns.scatterplot(x=vadm_years, y=vadm_values, ax=ax_a, s=12, color=GREY, edgecolor="none", linewidth=0, zorder=2)
sns.lineplot(x=years, y=unweighted, ax=ax_a, color=RED, lw=2.2, zorder=4)
sns.lineplot(x=years, y=weighted, ax=ax_a, color=BLUE, lw=2.2, zorder=5)
draw_averages(ax_a)
style_axes(ax_a, "VADM  10$^{22}$ Am$^{2}$")
for (label, col), yy in zip(legend_a, legend_y):
    ax_a.text(-4880, yy, label, color=col, fontsize=11.5, va="center", ha="left")
ax_a.plot([-4905], [15.0], "o", color=BLACK, ms=7)

# Panel (b)
sns.scatterplot(x=cals_years, y=cals_values, ax=ax_b, s=12, color=GREY, edgecolor="none", linewidth=0, zorder=2)
sns.lineplot(x=years, y=dipole, ax=ax_b, color=BLACK, lw=2.2, zorder=3)
sns.lineplot(x=years, y=unweighted, ax=ax_b, color=RED, lw=2.2, zorder=4)
sns.lineplot(x=years, y=weighted, ax=ax_b, color=BLUE, lw=2.2, zorder=5)
draw_averages(ax_b)
style_axes(ax_b, "M  10$^{22}$ Am$^{2}$")
ax_b.set_xlabel("Calendar  Year", fontsize=11.5, labelpad=2)
for (label, col), yy in zip(legend_b, legend_y):
    ax_b.text(-4880, yy, label, color=col, fontsize=11.5, va="center", ha="left")

fig.text(0.013, 0.982, "(a)", fontsize=11.5, va="center", ha="left")
fig.text(0.013, 0.483, "(b)", fontsize=11.5, va="center", ha="left")

fig.savefig("out.png", dpi=100)
